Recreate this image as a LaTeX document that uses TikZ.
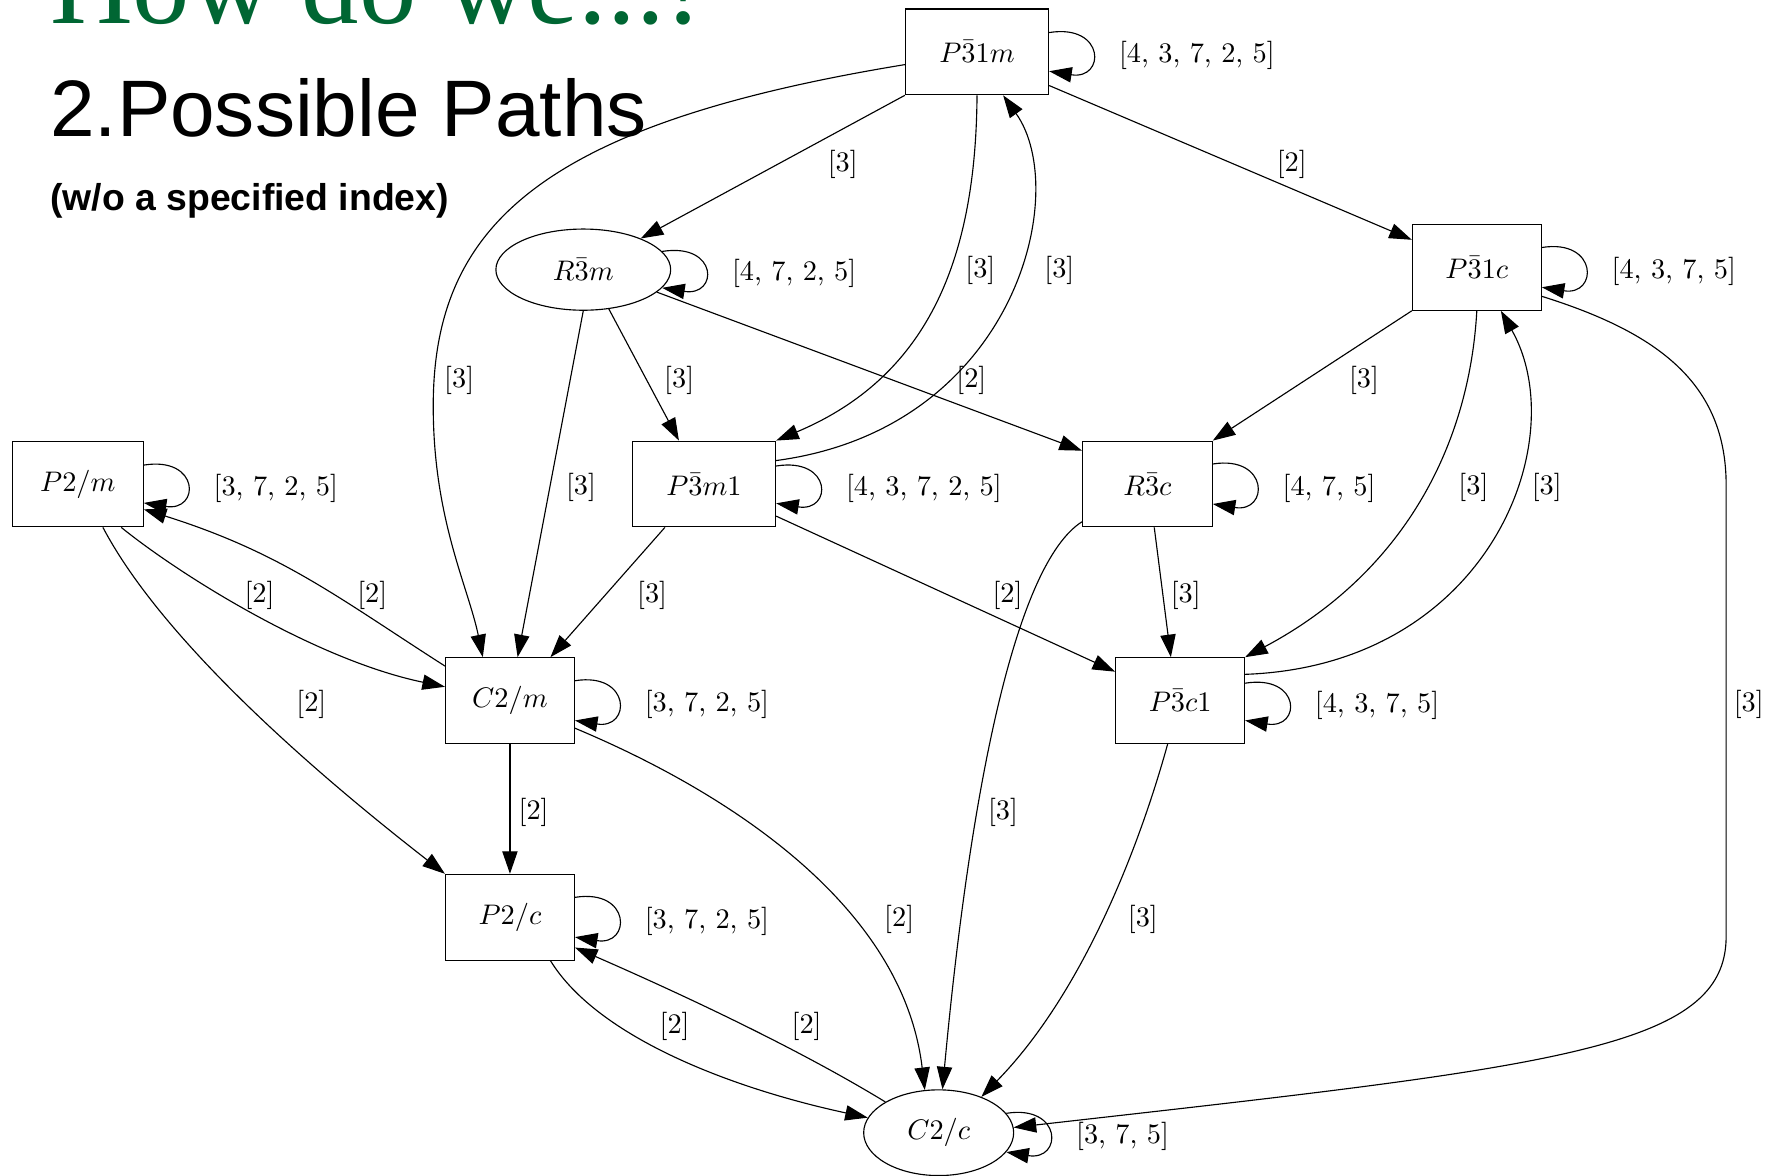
\documentclass[tikz,border=0pt]{standalone}
\usepackage{fontspec}
\newfontfamily\sansfont{Liberation Sans}
\newfontfamily\seriffont{Liberation Serif}
\usetikzlibrary{arrows.meta,shapes.geometric}
\definecolor{titlegreen}{RGB}{0,102,51}
\tikzset{
  grp/.style={draw, rectangle, minimum width=1.6cm, minimum height=1.064cm, inner sep=0pt},
  grpell/.style={draw, ellipse, minimum width=#1, minimum height=1.064cm, inner sep=0pt},
  trans/.style={draw, -{Triangle[length=2.8mm,width=1.9mm]}},
  idx/.style={inner sep=1pt},
}
\newcommand{\selfloop}[3]{%
  \draw[trans] (#1) .. controls +(50,-8) and +(50,8) .. (#2)
    node[idx, midway, anchor=west, xshift=3mm, yshift=-0.5mm] {#3};}
\begin{document}
\begin{tikzpicture}[x=0.014cm, y=-0.014cm]
  \useasboundingbox (0,0) rectangle (1568,1042);

  % titles
  \node[anchor=base west, inner sep=0pt, text=titlegreen, font=\seriffont\fontsize{40.5}{42}\selectfont] (howdo) at (44,21) {How do we...!};
  \node[anchor=base west, inner sep=0pt, font=\sansfont\fontsize{28.3}{30}\selectfont] (paths) at (44,121) {2.Possible Paths};
  \node[anchor=base west, inner sep=0pt, font=\sansfont\bfseries\fontsize{13.2}{15}\selectfont] (noidx) at (44,187) {(w/o a specified index)};

  % groups
  \node[grp, minimum width=1.778cm] (p31m) at (866,46) {$P\bar{3}1m$};
  \node[grpell=2.17cm, minimum height=1.008cm] (r3m) at (517,239) {$R\bar{3}m$};
  \node[grp] (p31c) at (1309,237) {$P\bar{3}1c$};
  \node[grp, minimum width=1.624cm] (p2m) at (69,429) {$P2/m$};
  \node[grp, minimum width=1.778cm] (p3m1) at (624,429) {$P\bar{3}m1$};
  \node[grp, minimum width=1.61cm] (r3c) at (1017,429) {$R\bar{3}c$};
  \node[grp] (c2m) at (452,621) {$C2/m$};
  \node[grp] (p3c1) at (1046,621) {$P\bar{3}c1$};
  \node[grp] (p2c) at (452,813) {$P2/c$};
  \node[grpell=1.862cm] (c2c) at (832,1004) {$C2/c$};

  % self loops
  \selfloop{p31m.15}{p31m.-15}{[4, 3, 7, 2, 5]}
  \selfloop{r3m.13}{r3m.-13}{[4, 7, 2, 5]}
  \selfloop{p31c.17}{p31c.-17}{[4, 3, 7, 5]}
  \selfloop{p2m.16}{p2m.-16}{[3, 7, 2, 5]}
  \selfloop{p3m1.14}{p3m1.-15}{[4, 3, 7, 2, 5]}
  \selfloop{r3c.17}{r3c.-17}{[4, 7, 5]}
  \selfloop{c2m.17}{c2m.-17}{[3, 7, 2, 5]}
  \selfloop{p3c1.15}{p3c1.-17}{[4, 3, 7, 5]}
  \selfloop{p2c.17}{p2c.-17}{[3, 7, 2, 5]}
  \selfloop{c2c.16}{c2c.-16}{[3, 7, 5]}

  % transitions
  \draw[trans] (p31m.south west) -- (r3m);
  \draw[trans] (p31m.-25) -- (p31c);
  \draw[trans] (p31m.190) .. controls (480,110) and (384,200) .. (384,360)
    .. controls (384,460) and (415,520) .. (c2m.122);
  \draw[trans] (p31m.south) .. controls (865,234) and (820,335) .. (p3m1.north east);
  \draw[trans] (p3m1.18) .. controls (900,380) and (950,170) .. (p31m.-59);
  \draw[trans] (r3m.south) -- (c2m.80);
  \draw[trans] (r3m.-57) -- (p3m1.120);
  \draw[trans] (r3m.-17) -- (r3c.153);
  \draw[trans] (p31c.south west) -- (r3c.north east);
  \draw[trans] (p31c.south) .. controls (1302,400) and (1240,510) .. (p3c1.north east);
  \draw[trans] (p3c1.22) .. controls (1320,590) and (1395,390) .. (p31c.-61);
  \draw[trans] (p31c.-24) .. controls (1470,295) and (1530,340) .. (1530,430) -- (1530,830)
    .. controls (1530,930) and (1380,945) .. (c2c.4);
  \draw[trans] (p2m.-45) .. controls (160,510) and (280,585) .. (c2m.168);
  \draw[trans] (c2m.152) .. controls (300,530) and (250,490) .. (p2m.-21);
  \draw[trans] (p2m.-60) .. controls (140,560) and (260,670) .. (p2c.north west);
  \draw[trans] (p3m1.228) -- (c2m.47);
  \draw[trans] (p3m1.-24) -- (p3c1.156);
  \draw[trans] (r3c.-81) -- (p3c1.102);
  \draw[trans] (r3c.210) .. controls (900,500) and (860,700) .. (c2c.85);
  \draw[trans] (c2m) -- (p2c);
  \draw[trans] (c2m.-23) .. controls (640,700) and (800,800) .. (c2c.108);
  \draw[trans] (p3c1.-106) .. controls (1010,750) and (960,880) .. (c2c.40);
  \draw[trans] (p2c.-47) .. controls (530,920) and (650,965) .. (c2c.168);
  \draw[trans] (c2c.150) .. controls (700,925) and (590,875) .. (p2c.-25);

  % index labels
  \node[idx] (lp31mr3m) at (747,146) {[3]};
  \node[idx] (lp31mp31c) at (1145,146) {[2]};
  \node[idx] (lp31mc2m) at (407,337) {[3]};
  \node[idx] (lp31mp3m1) at (869,240) {[3]};
  \node[idx] (lp3m1p31m) at (939,240) {[3]};
  \node[idx] (lr3mc2m) at (515,432) {[3]};
  \node[idx] (lr3mp3m1) at (602,337) {[3]};
  \node[idx] (lr3mr3c) at (861,337) {[2]};
  \node[idx] (lp31cr3c) at (1209,337) {[3]};
  \node[idx] (lp31cp3c1) at (1306,432) {[3]};
  \node[idx] (lp3c1p31c) at (1371,432) {[3]};
  \node[idx] (lp31cc2c) at (1550,624) {[3]};
  \node[idx] (lp2mc2m) at (230,528) {[2]};
  \node[idx] (lc2mp2m) at (330,528) {[2]};
  \node[idx] (lp2mp2c) at (276,624) {[2]};
  \node[idx] (lp3m1c2m) at (578,528) {[3]};
  \node[idx] (lp3m1p3c1) at (893,528) {[2]};
  \node[idx] (lr3cp3c1) at (1051,528) {[3]};
  \node[idx] (lr3cc2c) at (889,720) {[3]};
  \node[idx] (lc2mp2c) at (473,720) {[2]};
  \node[idx] (lc2mc2c) at (797,815) {[2]};
  \node[idx] (lp3c1c2c) at (1013,815) {[3]};
  \node[idx] (lp2cc2c) at (598,910) {[2]};
  \node[idx] (lc2cp2c) at (715,910) {[2]};
\end{tikzpicture}
\end{document}
